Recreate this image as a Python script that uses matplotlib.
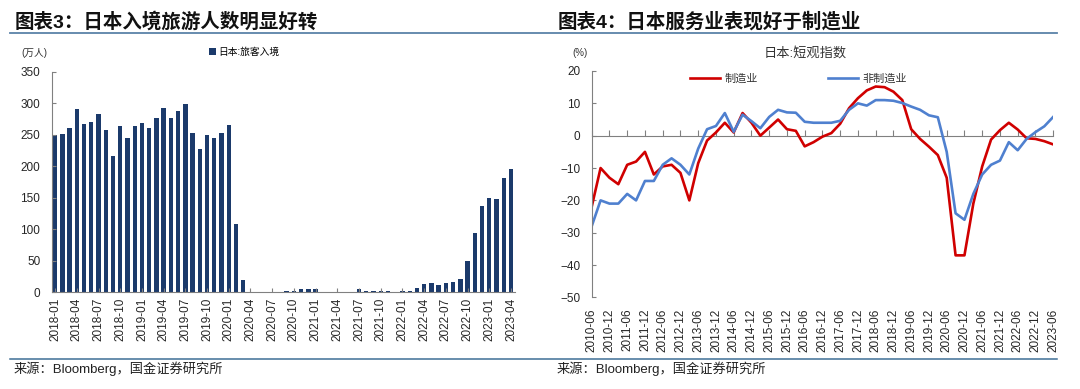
import numpy as np
import pandas as pd
import matplotlib
matplotlib.use('Agg')
import matplotlib.pyplot as plt
from matplotlib.lines import Line2D

plt.rcParams['font.family'] = ['Liberation Sans', 'Noto Sans CJK SC']

# left chart: monthly inbound visitors (10k persons)
months = pd.date_range('2018-01-01', '2023-04-01', freq='MS').strftime('%Y-%m').tolist()
arrivals = [250.1, 250.9, 260.7, 290.1, 267.5, 270.5, 283.2, 257.8, 215.9, 264.1, 245.1, 263.2,
            268.9, 260.4, 276.1, 292.7, 277.3, 288.0, 299.1, 252.0, 227.3, 249.7, 244.1, 252.6,
            266.1, 108.5, 19.4, 0.3, 0.2, 0.3, 0.4, 0.9, 1.4, 2.8, 5.7, 5.9,
            4.6, 0.7, 1.2, 1.1, 1.0, 1.0, 5.2, 2.6, 1.9, 2.2, 2.1, 1.2,
            1.7, 1.7, 6.6, 13.9, 14.7, 12.0, 14.5, 16.9, 20.7, 49.9, 93.4, 137.0,
            149.7, 147.6, 181.8, 194.9]

# right chart: tankan index, quarterly
quarters = pd.date_range('2010-06-01', '2023-06-01', freq='3MS').strftime('%Y-%m').tolist()
manu = [-22, -10, -13, -15, -9, -8, -5, -12, -9.5, -9, -11.5, -20, -8.5,
        -1.5, 1, 4, 1, 7, 4, 0, 2.5, 5, 2, 1.5, -3.3, -2,
        -0.3, 0.8, 3.7, 8.5, 11.6, 14, 15.2, 15, 13.6, 11, 2, -1, -3.4,
        -6, -13, -37, -37, -21, -9.5, -1.2, 1.7, 4, 1.9, -0.8, -1, -1.7, -2.7]
nonmanu = [-28, -20, -21, -21, -18, -20, -14, -14, -9, -7, -9, -12, -4,
           2, 3, 7, 1.2, 6.5, 4.5, 2.3, 5.8, 8, 7.2, 7.1, 4.3, 4,
           4, 4, 4.6, 8, 10, 9.3, 11, 11, 10.8, 10.1, 9, 8, 6.3,
           5.7, -5, -24, -26, -18, -12, -9, -7.7, -2, -4.5, -1, 1.1, 2.9, 5.8]

W, H = 1080, 389
grey = '#808080'
tickc = '#262626'

def fx(px):
    return px / W

def fy(py):
    return (H - py) / H

fig = plt.figure(figsize=(10.8, 3.89), dpi=100)

# header / footer decoration
fig.add_artist(Line2D([fx(10), fx(1057)], [fy(33), fy(33)], color='#5A82A8', lw=1.3))
fig.add_artist(Line2D([fx(10), fx(1057)], [fy(359), fy(359)], color='#3F6F96', lw=1.1))
fig.text(fx(15), fy(22), '图表3：日本入境旅游人数明显好转', fontsize=14, fontweight='bold',
         va='center', ha='left', color='#111111')
fig.text(fx(558), fy(22), '图表4：日本服务业表现好于制造业', fontsize=14, fontweight='bold',
         va='center', ha='left', color='#111111')
fig.text(fx(14), fy(369), '来源：Bloomberg，国金证券研究所', fontsize=9.5, va='center', color='#222222')
fig.text(fx(557), fy(369), '来源：Bloomberg，国金证券研究所', fontsize=9.5, va='center', color='#222222')

# ---- left: bars
ax1 = fig.add_axes([fx(51.5), fy(292.3), fx(514.6 - 51.5), 220.6 / H])
x = np.arange(len(months))
bars = ax1.bar(x, arrivals, width=0.6, color='#1B3A6B', label='日本:旅客入境')
ax1.set_xlim(-0.5, len(months) - 0.5)
ax1.set_ylim(0, 350)
ax1.set_yticks(range(0, 351, 50))
ax1.set_xticks(x[::3])
ax1.set_xticklabels(months[::3], rotation=90)
for s in ['top', 'right']:
    ax1.spines[s].set_visible(False)
for s in ['left', 'bottom']:
    ax1.spines[s].set_color(grey)
    ax1.spines[s].set_linewidth(0.8)
ax1.tick_params(axis='y', direction='in', length=3, color=grey, labelsize=8.5, labelcolor=tickc, pad=8)
ax1.tick_params(axis='x', direction='in', length=3, color=grey, labelsize=8.5, labelcolor=tickc, pad=4)
fig.text(fx(34), fy(53), '(万人)', fontsize=7, ha='center', va='center', color='#333333')
fig.legend(handles=[bars], labels=['日本:旅客入境'], loc='center left',
           bbox_to_anchor=(fx(209), fy(52)), frameon=False, fontsize=7,
           handlelength=0.7, handleheight=0.7, handletextpad=0.3, borderpad=0, borderaxespad=0)

# ---- right: lines
ax2 = fig.add_axes([fx(591.7), fy(297.4), fx(1053.2 - 591.7), 226.4 / H])
q = np.arange(len(quarters))
ax2.plot(q, manu, color='#D00000', lw=1.9, label='制造业', solid_joinstyle='round')
ax2.plot(q, nonmanu, color='#4F80CF', lw=1.9, label='非制造业', solid_joinstyle='round')
ylo, yhi = -50, 20
ax2.set_xlim(0, len(quarters) - 1)
ax2.set_ylim(ylo, yhi)
ax2.set_yticks(range(ylo, yhi + 1, 10))
ax2.set_xticks(q[::2])
ax2.set_xticklabels(quarters[::2], rotation=90)
for s in ['top', 'right', 'bottom']:
    ax2.spines[s].set_visible(False)
ax2.spines['left'].set_color(grey)
ax2.spines['left'].set_linewidth(0.8)
ax2.tick_params(axis='y', direction='in', length=3, color=grey, labelsize=8.5, labelcolor=tickc, pad=8)
ax2.tick_params(axis='x', length=0, labelsize=8.5, labelcolor=tickc, pad=8)

sec = ax2.secondary_xaxis((0 - ylo) / (yhi - ylo))
sec.set_xticks(q[::2])
sec.tick_params(direction='out', length=4, color=grey, labeltop=False, labelbottom=False)
for s in sec.spines.values():
    s.set_color(grey)
    s.set_linewidth(0.8)

fig.text(fx(580), fy(53), '(%)', fontsize=7, ha='center', va='center', color='#333333')
fig.text(fx(805), fy(53), '日本:短观指数', fontsize=9.5, ha='center', va='center', color='#333333')
ax2.legend(loc='center left', bbox_to_anchor=(fx(690), fy(79)), bbox_transform=fig.transFigure,
           ncol=2, frameon=False, fontsize=8, handlelength=2.7, columnspacing=6.3,
           handletextpad=0.4, borderpad=0, borderaxespad=0, labelcolor='#333333')

fig.savefig('out.png', dpi=100)
